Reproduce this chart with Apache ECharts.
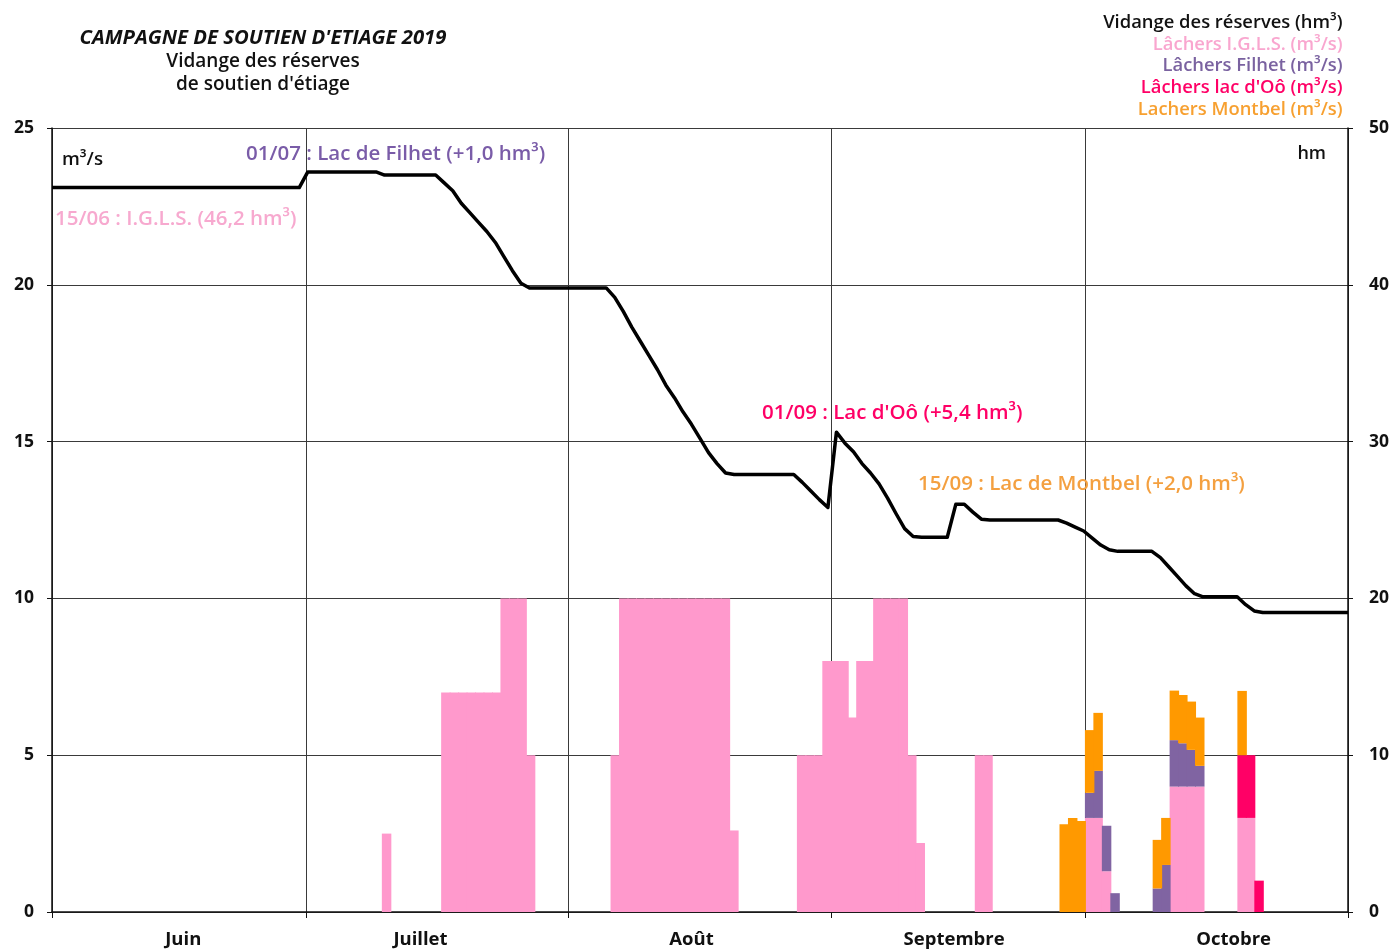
<!DOCTYPE html>
<html>
<head>
<meta charset="utf-8">
<script src="https://cdn.jsdelivr.net/npm/echarts@6/dist/echarts.min.js"></script>
<style>
  html, body { margin: 0; padding: 0; background: #ffffff; }
  #chart { width: 1394px; height: 949px; }
</style>
</head>
<body>
<div id="chart"></div>
<script>
// ---- calendar: 1 June – 31 October 2019 ----
const monthNames   = ['Juin', 'Juillet', 'Août', 'Septembre', 'Octobre'];
const monthNums    = ['06', '07', '08', '09', '10'];
const monthLengths = [30, 31, 31, 30, 31];
const monthLabelDay = [16, 14, 15, 15, 18];   // day of the month carrying the month name

// ---- reserve volume (hm³), one value per day ----
const volumeJuin = [
  46.2, 46.2, 46.2, 46.2, 46.2, 46.2, 46.2, 46.2, 46.2, 46.2,
  46.2, 46.2, 46.2, 46.2, 46.2, 46.2, 46.2, 46.2, 46.2, 46.2,
  46.2, 46.2, 46.2, 46.2, 46.2, 46.2, 46.2, 46.2, 46.2, 46.2
];
const volumeJuillet = [
  47.2, 47.2, 47.2, 47.2, 47.2, 47.2, 47.2, 47.2, 47.2, 47.0,
  47.0, 47.0, 47.0, 47.0, 47.0, 47.0, 46.5, 46.0, 45.2, 44.6,
  44.0, 43.4, 42.7, 41.8, 40.9, 40.1, 39.8, 39.8, 39.8, 39.8,
  39.8
];
const volumeAout = [
  39.8, 39.8, 39.8, 39.8, 39.8, 39.2, 38.3, 37.3, 36.4, 35.5,
  34.6, 33.6, 32.8, 31.9, 31.1, 30.2, 29.3, 28.6, 28.0, 27.9,
  27.9, 27.9, 27.9, 27.9, 27.9, 27.9, 27.9, 27.4, 26.85, 26.3,
  25.8
];
const volumeSeptembre = [
  30.6, 29.9, 29.35, 28.6, 28.0, 27.3, 26.4, 25.4, 24.45, 23.95,
  23.9, 23.9, 23.9, 23.9, 26.0, 26.0, 25.5, 25.05, 25.0, 25.0,
  25.0, 25.0, 25.0, 25.0, 25.0, 25.0, 25.0, 24.8, 24.55, 24.3
];
const volumeOctobre = [
  23.85, 23.4, 23.1, 23.0, 23.0, 23.0, 23.0, 23.0, 22.6, 22.0,
  21.4, 20.8, 20.3, 20.1, 20.1, 20.1, 20.1, 20.1, 19.6, 19.2,
  19.1, 19.1, 19.1, 19.1, 19.1, 19.1, 19.1, 19.1, 19.1, 19.1,
  19.1
];

// ---- daily releases (m³/s), listed only on days with a release ----
const lachersIGLS = [
  ['10/07', 2.5],
  ['17/07', 7], ['18/07', 7], ['19/07', 7], ['20/07', 7], ['21/07', 7], ['22/07', 7], ['23/07', 7],
  ['24/07', 10], ['25/07', 10], ['26/07', 10], ['27/07', 5],
  ['06/08', 5],
  ['07/08', 10], ['08/08', 10], ['09/08', 10], ['10/08', 10], ['11/08', 10], ['12/08', 10], ['13/08', 10],
  ['14/08', 10], ['15/08', 10], ['16/08', 10], ['17/08', 10], ['18/08', 10], ['19/08', 10],
  ['20/08', 2.6],
  ['28/08', 5], ['29/08', 5], ['30/08', 5], ['31/08', 8],
  ['01/09', 8], ['02/09', 8], ['03/09', 6.2], ['04/09', 8], ['05/09', 8],
  ['06/09', 10], ['07/09', 10], ['08/09', 10], ['09/09', 10], ['10/09', 5], ['11/09', 2.2],
  ['18/09', 5], ['19/09', 5],
  ['01/10', 3], ['02/10', 3], ['03/10', 1.3],
  ['11/10', 4], ['12/10', 4], ['13/10', 4], ['14/10', 4],
  ['19/10', 3], ['20/10', 3]
];
const lachersFilhet = [
  ['01/10', 0.8], ['02/10', 1.5], ['03/10', 1.45], ['04/10', 0.6],
  ['09/10', 0.75], ['10/10', 1.5], ['11/10', 1.48], ['12/10', 1.38], ['13/10', 1.17], ['14/10', 0.66]
];
const lachersOo = [
  ['19/10', 2.0], ['20/10', 2.0], ['21/10', 1.0]
];
const lachersMontbel = [
  ['28/09', 2.8], ['29/09', 3.0], ['30/09', 2.9], ['01/10', 2.0], ['02/10', 1.85],
  ['09/10', 1.55], ['10/10', 1.5], ['11/10', 1.58], ['12/10', 1.54], ['13/10', 1.54], ['14/10', 1.54],
  ['19/10', 2.05]
];

// ---- build the day axis ----
const days = [];
const monthStartIdx = [];
const monthLabelIdx = {};
monthLengths.forEach((len, m) => {
  monthStartIdx.push(days.length);
  for (let d = 1; d <= len; d++) {
    if (d === monthLabelDay[m]) monthLabelIdx[days.length] = monthNames[m];
    days.push(String(d).padStart(2, '0') + '/' + monthNums[m]);
  }
});
const volume = [].concat(volumeJuin, volumeJuillet, volumeAout, volumeSeptembre, volumeOctobre);

function daily(list) {
  const map = new Map(list);
  return days.map(d => (map.has(d) ? map.get(d) : null));
}

const FONT = '"Open Sans", "Noto Sans", sans-serif';
const COLORS = {
  igls: '#ff99cc',
  filhet: '#8064a2',
  oo: '#ff0066',
  montbel: '#ff9900'
};
const GRID_LINE = '#3a3a3a';

const chart = echarts.init(document.getElementById('chart'), null, { renderer: 'canvas' });

// daily bars sit edge to edge; a slight overlap hides anti-aliasing seams
const barSeries = (name, list, color) => ({
  name: name,
  type: 'bar',
  stack: 'lachers',
  xAxisIndex: 0,
  yAxisIndex: 0,
  barWidth: '112%',
  barCategoryGap: '0%',
  itemStyle: { color: color },
  emphasis: { disabled: true },
  data: daily(list)
});

const annotation = (text, left, top, color) => ({
  type: 'text', left: left, top: top, z: 10,
  style: { text: text, font: '600 20.5px ' + FONT, fill: color }
});

chart.setOption({
  animation: false,
  backgroundColor: '#ffffff',
  textStyle: { fontFamily: FONT },
  title: {
    left: 258,
    top: 21,
    textAlign: 'center',
    text: '{a|CAMPAGNE DE SOUTIEN D\'ETIAGE 2019}\n{b|Vidange des réserves}\n{b|de soutien d\'étiage}',
    textStyle: {
      rich: {
        a: { fontFamily: FONT, fontSize: 20.3, fontWeight: 700, fontStyle: 'italic', color: '#111', lineHeight: 24 },
        b: { fontFamily: FONT, fontSize: 19, fontWeight: 600, color: '#111', lineHeight: 23 }
      }
    }
  },
  legend: {
    orient: 'vertical',
    right: 35,
    top: 9,
    align: 'right',
    itemWidth: 0,
    itemHeight: 16,
    itemGap: 3.6,
    selectedMode: false,
    itemStyle: { opacity: 0 },
    lineStyle: { opacity: 0 },
    textStyle: { fontFamily: FONT, fontSize: 18.4, fontWeight: 600 },
    data: [
      { name: 'Vidange des réserves (hm³)', textStyle: { color: '#111' } },
      { name: 'Lâchers I.G.L.S. (m³/s)', textStyle: { color: '#f9a6cf' } },
      { name: 'Lâchers Filhet (m³/s)', textStyle: { color: '#7a62a0' } },
      { name: 'Lâchers lac d\'Oô (m³/s)', textStyle: { color: COLORS.oo } },
      { name: 'Lachers Montbel (m³/s)', textStyle: { color: '#f7a030' } }
    ]
  },
  grid: { left: 52, right: 46, top: 128, bottom: 37, containLabel: false },
  xAxis: [
    {
      type: 'category',
      data: days,
      boundaryGap: true,
      axisLine: { show: true, lineStyle: { color: '#111', width: 1.5 } },
      axisTick: {
        show: true,
        length: 6,
        interval: idx => monthStartIdx.includes(idx),
        lineStyle: { color: '#111' }
      },
      axisLabel: {
        interval: idx => monthLabelIdx[idx] !== undefined,
        formatter: (val, idx) => monthLabelIdx[idx] || '',
        margin: 18,
        fontFamily: FONT,
        fontSize: 18.5,
        fontWeight: 700,
        color: '#111'
      },
      splitLine: {
        show: true,
        interval: idx => monthStartIdx.includes(idx),
        lineStyle: { color: GRID_LINE, width: 1 }
      }
    },
    {
      type: 'category',
      data: days,
      boundaryGap: false,
      show: false
    }
  ],
  yAxis: [
    {
      type: 'value',
      min: 0,
      max: 25,
      interval: 5,
      axisLine: { show: true, lineStyle: { color: '#111', width: 1.5 } },
      axisTick: { show: true, length: 5, lineStyle: { color: '#111' } },
      axisLabel: { margin: 18, fontFamily: FONT, fontSize: 17.5, fontWeight: 700, color: '#111' },
      splitLine: { show: true, lineStyle: { color: GRID_LINE, width: 1 } }
    },
    {
      type: 'value',
      position: 'right',
      min: 0,
      max: 50,
      interval: 10,
      axisLine: { show: true, lineStyle: { color: '#111', width: 1.5 } },
      axisTick: { show: true, length: 5, lineStyle: { color: '#111' } },
      axisLabel: { margin: 21, fontFamily: FONT, fontSize: 17.5, fontWeight: 700, color: '#111' },
      splitLine: { show: false }
    }
  ],
  series: [
    {
      name: 'Vidange des réserves (hm³)',
      type: 'line',
      xAxisIndex: 1,
      yAxisIndex: 1,
      data: volume,
      symbol: 'none',
      z: 5,
      lineStyle: { color: '#000', width: 3.5, join: 'round' },
      itemStyle: { color: '#000' },
      emphasis: { disabled: true }
    },
    barSeries('Lâchers I.G.L.S. (m³/s)', lachersIGLS, COLORS.igls),
    barSeries('Lâchers Filhet (m³/s)', lachersFilhet, COLORS.filhet),
    barSeries('Lâchers lac d\'Oô (m³/s)', lachersOo, COLORS.oo),
    barSeries('Lachers Montbel (m³/s)', lachersMontbel, COLORS.montbel)
  ],
  graphic: [
    { type: 'text', left: 62, top: 150, z: 10,
      style: { text: 'm³/s', font: '600 18.7px ' + FONT, fill: '#111' } },
    { type: 'text', right: 68, top: 145, z: 10,
      style: { text: 'hm', font: '600 18px ' + FONT, fill: '#111' } },
    annotation('01/07 : Lac de Filhet (+1,0 hm³)', 246, 144, '#7a5ca8'),
    annotation('15/06 : I.G.L.S. (46,2 hm³)', 55, 209, '#f7a9cf'),
    annotation('01/09 : Lac d\'Oô (+5,4 hm³)', 762, 403, '#ff0066'),
    annotation('15/09 : Lac de Montbel (+2,0 hm³)', 918, 474, '#f4a040')
  ]
});
</script>
</body>
</html>
